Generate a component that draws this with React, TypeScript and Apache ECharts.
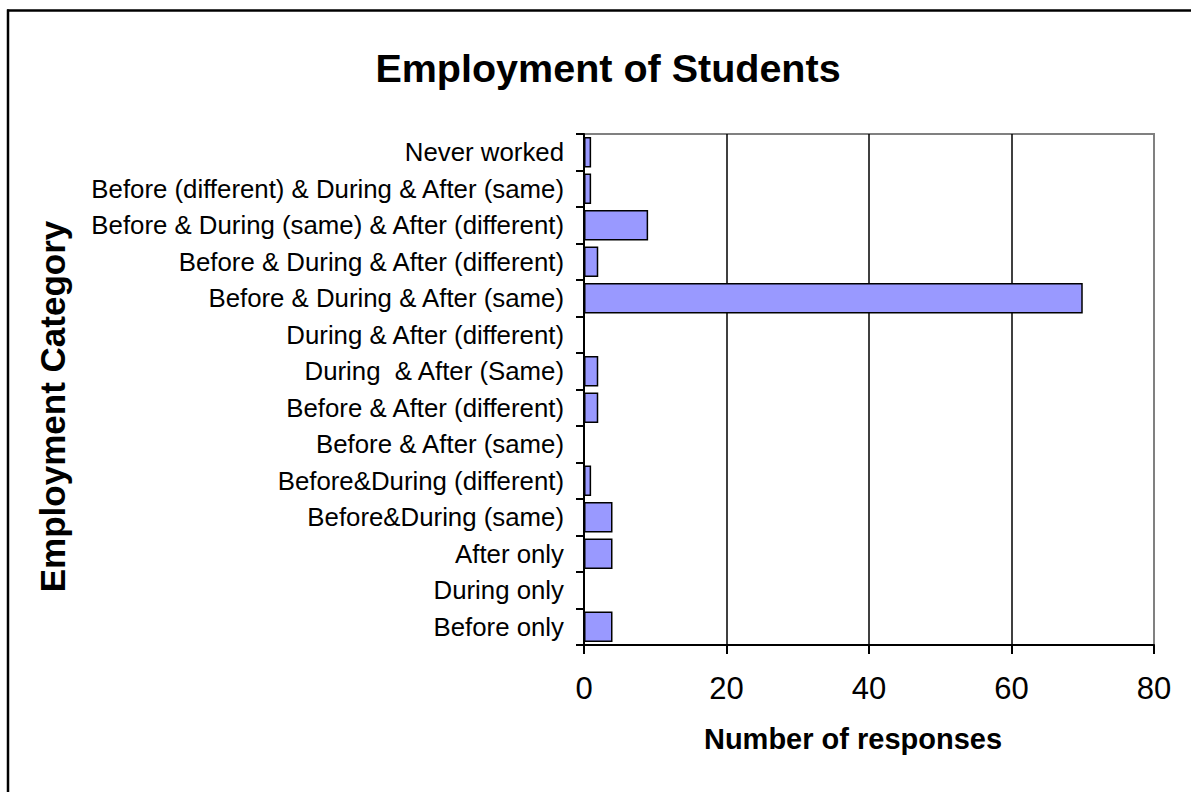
import React, { useEffect, useRef } from "react";
import * as echarts from "echarts";

const categories: string[] = [
  "Before only",
  "During only",
  "After only",
  "Before&During (same)",
  "Before&During (different)",
  "Before & After (same)",
  "Before & After (different)",
  "During  & After (Same)",
  "During & After (different)",
  "Before & During & After (same)",
  "Before & During & After (different)",
  "Before & During (same) & After (different)",
  "Before (different) & During & After (same)",
  "Never worked",
];

const responses: number[] = [4, 0, 4, 4, 1, 0, 2, 2, 0, 70, 2, 9, 1, 1];

const titleText = "Employment of Students";
const xAxisName = "Number of responses";
const yAxisName = "Employment Category";

const FONT = "'Liberation Sans', Arial, sans-serif";

export default function App() {
  const ref = useRef<HTMLDivElement>(null);
  useEffect(() => {
    if (!ref.current) return;
    const chart = echarts.init(ref.current, null, { renderer: "svg" });
    chart.setOption({
      animation: false,
      backgroundColor: "#ffffff",
      title: {
        text: titleText,
        left: 603,
        top: 43,
        textAlign: "center",
        textStyle: { fontFamily: FONT, fontSize: 39.5, fontWeight: "bold", color: "#000" },
      },
      grid: {
        left: 584,
        top: 134,
        width: 570,
        height: 511,
        show: true,
        borderColor: "#808080",
        borderWidth: 2,
        backgroundColor: "transparent",
      },
      xAxis: {
        type: "value",
        min: 0,
        max: 80,
        interval: 20,
        name: xAxisName,
        nameLocation: "middle",
        nameGap: 79,
        nameTextStyle: {
          fontFamily: FONT,
          fontSize: 29,
          fontWeight: "bold",
          color: "#000",
          padding: [0, 32, 0, 0],
        },
        axisLine: { show: true, lineStyle: { color: "#000", width: 2 } },
        axisTick: { show: true, length: 9, lineStyle: { color: "#000", width: 2 } },
        axisLabel: { fontFamily: FONT, fontSize: 31, color: "#000", margin: 28 },
        splitLine: { show: true, showMaxLine: false, lineStyle: { color: "#000", width: 1.5 } },
      },
      yAxis: {
        type: "category",
        data: categories,
        name: yAxisName,
        nameLocation: "middle",
        nameGap: 514,
        nameRotate: 90,
        nameTextStyle: {
          fontFamily: FONT,
          fontSize: 35,
          fontWeight: "bold",
          color: "#000",
          padding: [0, 34, 0, 0],
        },
        axisLine: { show: true, lineStyle: { color: "#000", width: 2 } },
        axisTick: { show: true, length: 8, lineStyle: { color: "#000", width: 2 } },
        axisLabel: { fontFamily: FONT, fontSize: 25.8, color: "#000", margin: 20 },
        splitLine: { show: false },
      },
      series: [
        {
          type: "bar",
          data: responses,
          barCategoryGap: "17%",
          itemStyle: { color: "#9999ff", borderColor: "#000", borderWidth: 1.5 },
        },
      ],
      graphic: [
        {
          type: "line",
          shape: { x1: 8, y1: 9.5, x2: 8, y2: 800 },
          style: { stroke: "#000", lineWidth: 2.5 },
          silent: true,
        },
        {
          type: "line",
          shape: { x1: 7, y1: 10.4, x2: 1200, y2: 10.4 },
          style: { stroke: "#000", lineWidth: 2.5 },
          silent: true,
        },
      ],
    });
    return () => chart.dispose();
  }, []);
  return (
    <div
      ref={ref}
      style={{ position: "absolute", left: 0, top: 0, width: 1191, height: 792, overflow: "hidden" }}
    />
  );
}
